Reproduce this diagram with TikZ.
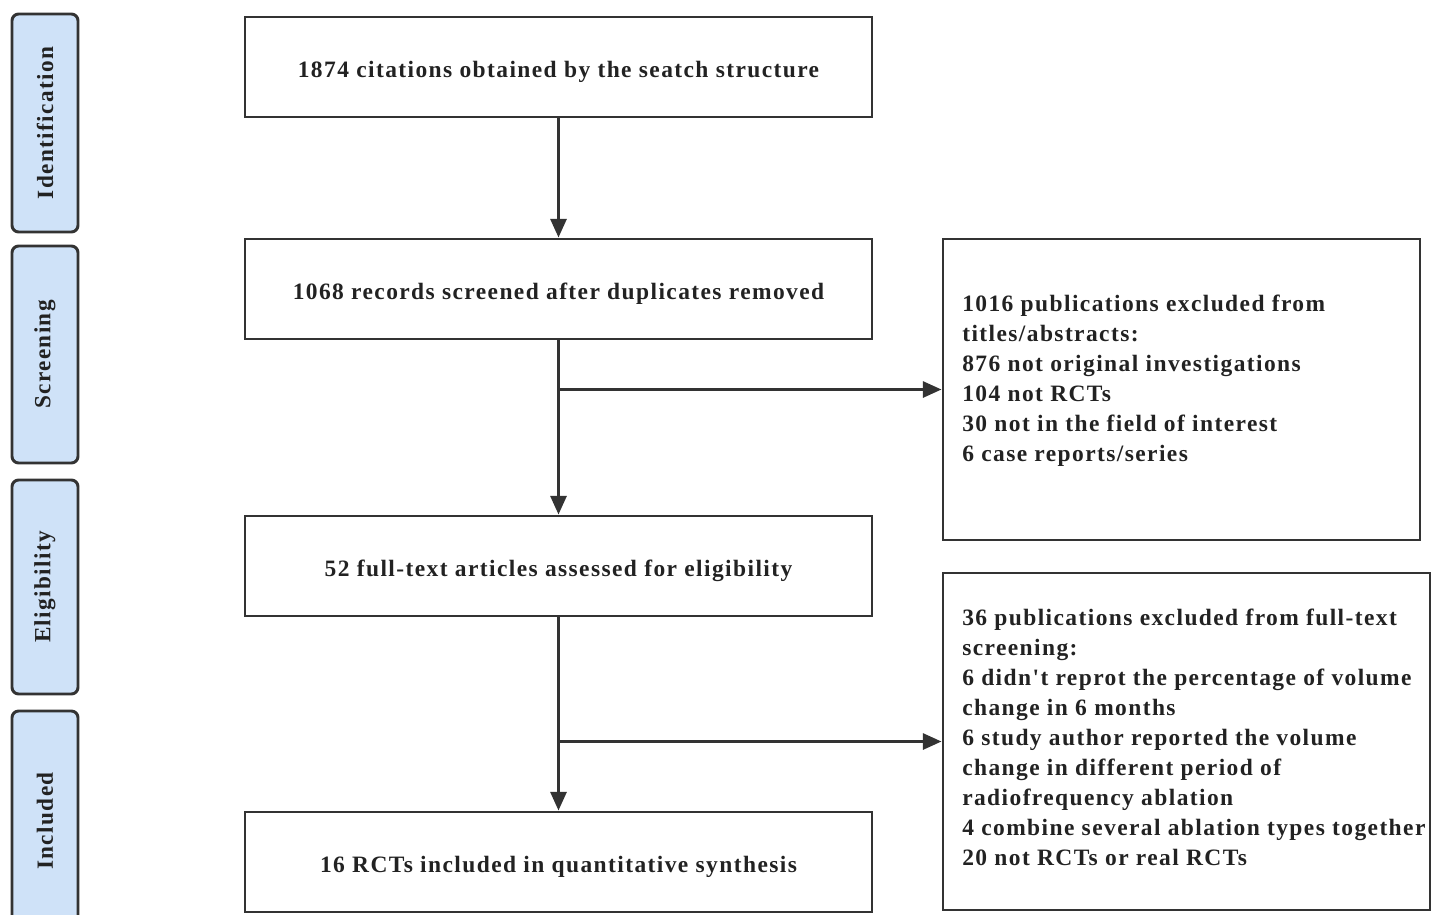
\documentclass[tikz,border=0pt]{standalone}
\usepackage{fontspec}
\setmainfont{Liberation Serif}
\newfontfamily\tb[LetterSpace=6]{Liberation Serif}
\usetikzlibrary{arrows.meta}
\definecolor{ink}{HTML}{222222}
\definecolor{edge}{HTML}{333333}
\definecolor{stagefill}{HTML}{CFE2F8}
\tikzset{
  mainbox/.style={draw=edge, line width=2.2pt, minimum width=470.25pt, minimum height=75pt, inner sep=0pt, text height=19pt, text depth=4pt, text=ink, font=\tb\bfseries\fontsize{17.6pt}{22.5pt}\selectfont},
  sidebox/.style={draw=edge, line width=2.2pt, inner sep=0pt},
  stagebox/.style={draw=edge, line width=2.2pt, fill=stagefill, rounded corners=5pt, minimum width=49.5pt, inner sep=0pt, text=ink, font=\tb\bfseries\fontsize{17.4pt}{20pt}\selectfont},
  sidetext/.style={anchor=north west, inner sep=0pt, align=left, text=ink, font=\tb\bfseries\fontsize{17.6pt}{22.5pt}\selectfont},
  flow/.style={draw=edge, line width=2.2pt, -{Triangle[length=14pt,width=12pt]}},
  plain/.style={draw=edge, line width=2.2pt}
}
\begin{document}
\begin{tikzpicture}[x=0.75pt,y=-0.75pt]
\useasboundingbox (0,0) rectangle (1442,914);
% stage labels
\node[stagebox, minimum height=163.5pt] (s1) at (45,123) {\rotatebox{90}{Identification}};
\node[stagebox, minimum height=162.75pt] (s2) at (45,354.5) {\rotatebox{90}{Screening}};
\node[stagebox, minimum height=160.5pt] (s3) at (45,587) {\rotatebox{90}{Eligibility}};
\begin{scope}
\clip (0,0) rectangle (1442,914);
\node[stagebox, minimum height=165pt] (s4) at (45,821) {\rotatebox{90}{Included}};
\end{scope}
% main boxes
\node[mainbox] (b1) at (558.5,67) {1874 citations obtained by the seatch structure};
\node[mainbox] (b2) at (558.5,289) {1068 records screened after duplicates removed};
\node[mainbox] (b3) at (558.5,566) {52 full-text articles assessed for eligibility};
\node[mainbox] (b4) at (558.5,862) {16 RCTs included in quantitative synthesis};
% side boxes
\node[sidebox, minimum width=357.75pt, minimum height=225.75pt] (r1) at (1181.5,389.5) {};
\node[sidebox, minimum width=365.25pt, minimum height=252.75pt] (r2) at (1186.5,741.5) {};
\node[sidetext] (t1) at (962,295) {1016 publications excluded from\\titles/abstracts:\\876 not original investigations\\104 not RCTs\\30 not in the field of interest\\6 case reports/series};
\node[sidetext] (t2) at (962,609) {36 publications excluded from full-text\\screening:\\6 didn't reprot the percentage of volume\\change in 6 months\\6 study author reported the volume\\change in different period of\\radiofrequency ablation\\4 combine several ablation types together\\20 not RCTs or real RCTs};
% connectors
\coordinate (j1) at (b2.south |- r1.west);
\coordinate (j2) at (b3.south |- r2.west);
\draw[flow] (b1) -- (b2);
\draw[flow] (b2) -- (b3);
\draw[flow] (b3) -- (b4);
\draw[flow] (j1) -- (r1.west);
\draw[flow] (j2) -- (r2.west);
\end{tikzpicture}
\end{document}
